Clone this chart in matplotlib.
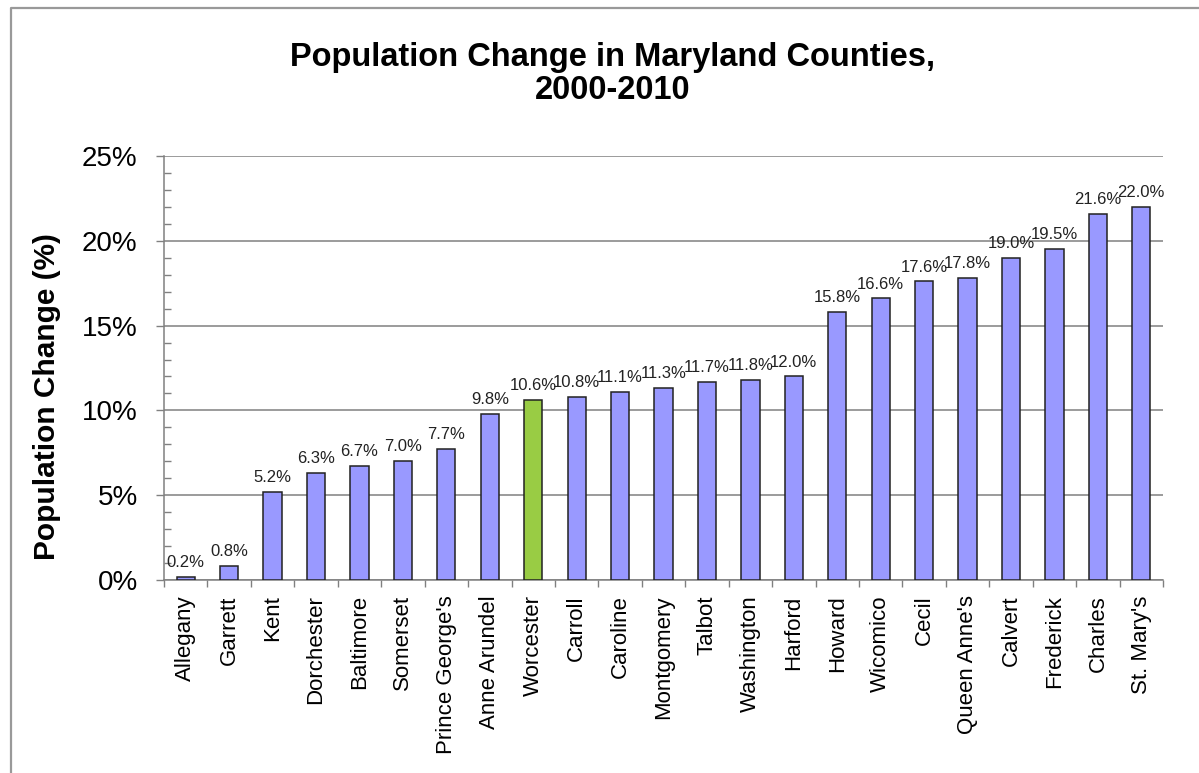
"""
Population change in Maryland counties, 2000-2010 (bar chart).
"""

import matplotlib
matplotlib.use("Agg")

import matplotlib.pyplot as plt
import numpy as np
from matplotlib.lines import Line2D
from matplotlib.ticker import FixedLocator, FuncFormatter

plt.rcParams["font.family"] = ["Liberation Sans", "DejaVu Sans"]

COUNTIES = [
    "Allegany", "Garrett", "Kent", "Dorchester", "Baltimore", "Somerset",
    "Prince George's", "Anne Arundel", "Worcester", "Carroll", "Caroline",
    "Montgomery", "Talbot", "Washington", "Harford", "Howard", "Wicomico",
    "Cecil", "Queen Anne's", "Calvert", "Frederick", "Charles", "St. Mary's",
]
CHANGE_PCT = [
    0.2, 0.8, 5.2, 6.3, 6.7, 7.0, 7.7, 9.8, 10.6, 10.8, 11.1, 11.3,
    11.7, 11.8, 12.0, 15.8, 16.6, 17.6, 17.8, 19.0, 19.5, 21.6, 22.0,
]
HIGHLIGHT = "Worcester"
Y_TICKS = [0, 5, 10, 15, 20, 25]

BAR_COLOR = "#9999FF"
HIGHLIGHT_COLOR = "#99CC44"
GRID_COLOR = "#808080"


def main():
    fig = plt.figure(figsize=(11.99, 7.73), dpi=100)
    ax = fig.add_axes([0.1368, 0.2497, 0.8332, 0.5485])

    x = np.arange(len(COUNTIES))
    colors = [HIGHLIGHT_COLOR if c == HIGHLIGHT else BAR_COLOR for c in COUNTIES]
    bars = ax.bar(x, CHANGE_PCT, width=0.42, color=colors,
                  edgecolor="#222222", linewidth=1.1, zorder=3)

    # value labels above bars
    for bar, v in zip(bars, CHANGE_PCT):
        ax.annotate(f"{v:.1f}%", (bar.get_x() + bar.get_width() / 2, v),
                    xytext=(0, 5), textcoords="offset points",
                    ha="center", va="bottom", fontsize=12, color="#222222")

    ax.set_xlim(-0.5, len(COUNTIES) - 0.5)
    ax.set_ylim(0, 25)

    # y axis: majors with gridlines, minor ticks inward every 1%
    ax.set_yticks(Y_TICKS)
    ax.yaxis.set_major_formatter(FuncFormatter(lambda v, _: f"{v:.0f}%"))
    minors = [m for m in range(0, 26) if m % 5 != 0]
    ax.yaxis.set_minor_locator(FixedLocator(minors))
    ax.tick_params(axis="y", which="major", direction="out", length=6,
                   width=1, color=GRID_COLOR, labelsize=20, pad=13)
    ax.tick_params(axis="y", which="minor", direction="in", length=5,
                   width=1, color=GRID_COLOR)
    ax.grid(axis="y", color=GRID_COLOR, linewidth=1.1, zorder=0)

    # x axis: labels at bar centers, tick marks between categories
    ax.set_xticks(x)
    ax.set_xticklabels(COUNTIES, rotation=90, fontsize=16)
    ax.xaxis.set_minor_locator(FixedLocator(np.arange(-0.5, len(COUNTIES), 1.0)))
    ax.tick_params(axis="x", which="major", length=0, pad=11)
    ax.tick_params(axis="x", which="minor", direction="out", length=5,
                   width=1, color=GRID_COLOR)

    for side in ("top", "right"):
        ax.spines[side].set_visible(False)
    for side in ("left", "bottom"):
        ax.spines[side].set_color(GRID_COLOR)
        ax.spines[side].set_linewidth(1.1)

    fig.text(0.511, 1 - 74 / 773, "Population Change in Maryland Counties,\n2000-2010",
             ha="center", va="center", fontsize=23.5, fontweight="bold",
             linespacing=1.1)
    fig.text(47 / 1199, 1 - 397 / 773, "Population Change (%)", rotation=90,
             ha="center", va="center", fontsize=21.5, fontweight="bold")

    # outer frame (cropped on right/bottom in the original)
    fig.add_artist(Line2D([11 / 1199, 11 / 1199, 1.0], [0.0, 1 - 8 / 773, 1 - 8 / 773],
                          transform=fig.transFigure, color="#999999", linewidth=1.6))

    fig.savefig("out.png", dpi=100)
    plt.close(fig)


if __name__ == "__main__":
    main()
